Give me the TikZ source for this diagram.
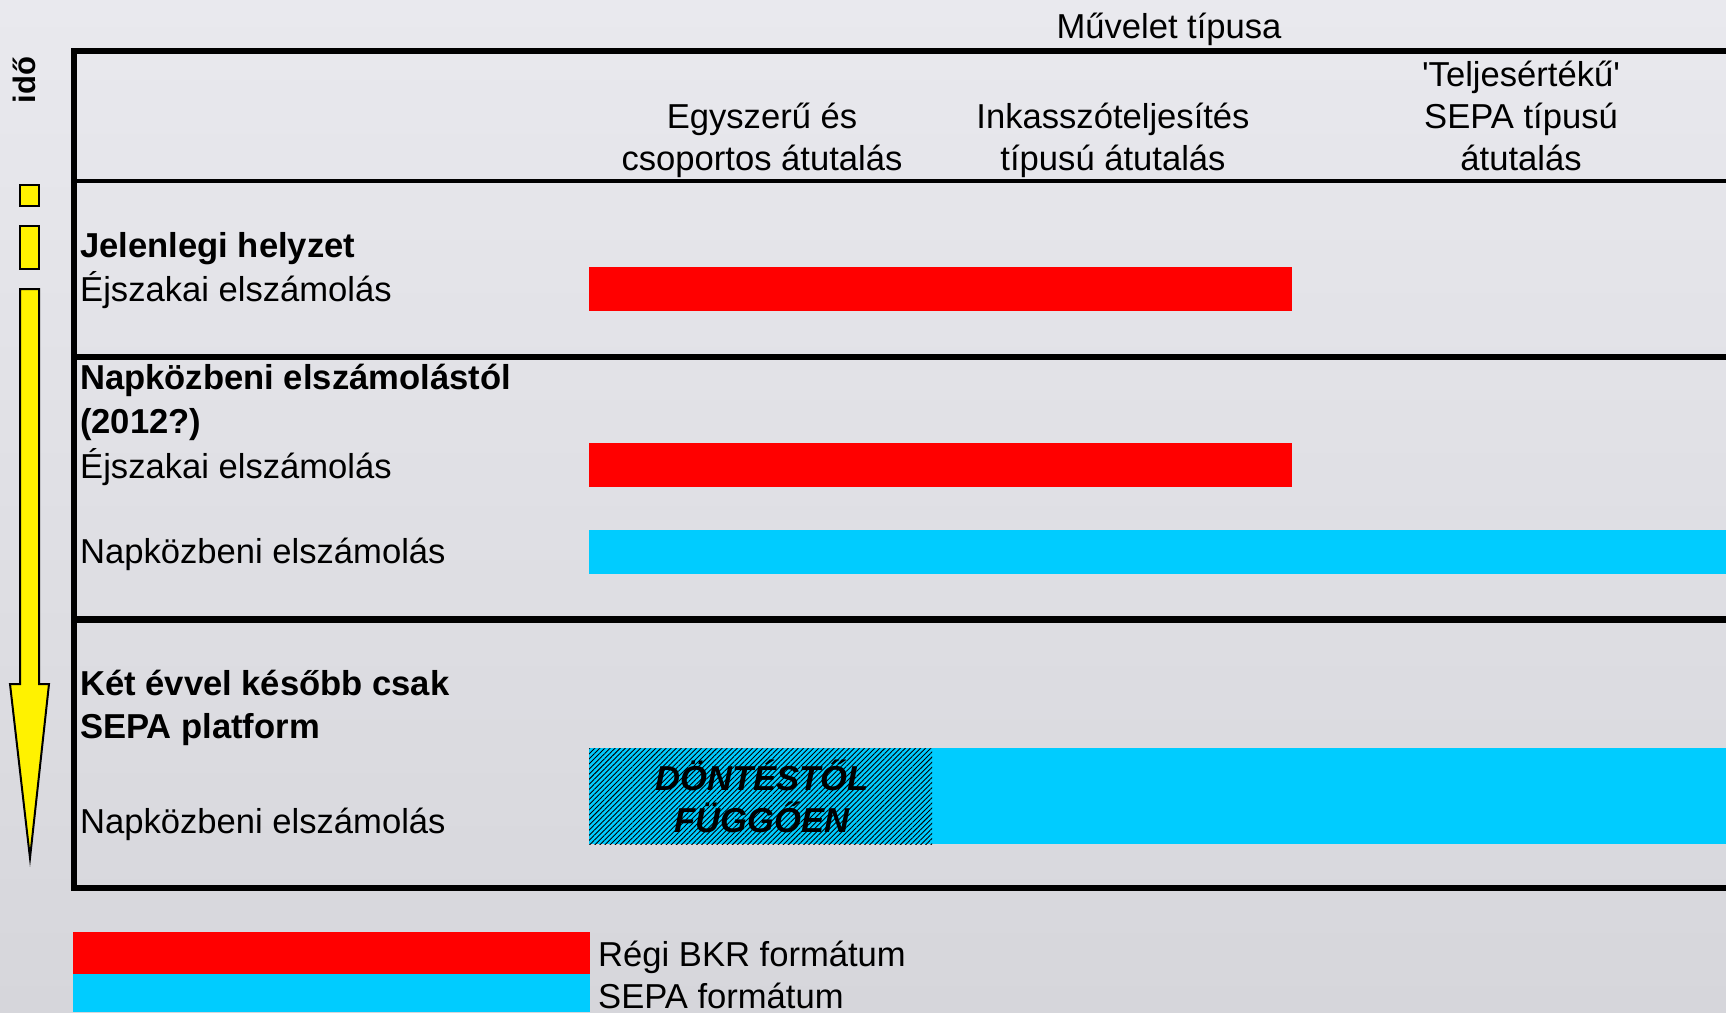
\documentclass[tikz,border=0pt]{standalone}
\usepackage{fontspec}
\setmainfont{Liberation Sans}
\usetikzlibrary{patterns.meta}
\definecolor{bkrred}{RGB}{255,0,0}
\definecolor{sepablue}{RGB}{0,204,255}
\definecolor{bgtop}{RGB}{233,233,238}
\definecolor{bgbottom}{RGB}{214,214,219}
\newcommand{\bodysize}{\fontsize{34.6}{42}\selectfont}
\tikzset{
    rule/.style={line width=6pt}, % table border lines
    timebar/.style={fill=yellow, draw=black, line width=2pt}, % yellow time marks
    txt/.style={inner sep=0pt, font=\bodysize}, % plain text
    rowtitle/.style={inner sep=0pt, anchor=base west, font=\bodysize\bfseries}, % bold row titles
    rowtext/.style={txt, anchor=base west},
    colhead/.style={txt, anchor=base, align=center}
}

\begin{document}
\begin{tikzpicture}[x=1pt, y=-1pt]
    \shade[top color=bgtop, bottom color=bgbottom] (0,0) rectangle (1726,1012);
    \useasboundingbox (0,0) rectangle (1726,1012);

    % bars
    \fill[bkrred] (589,267) rectangle (1292,311);
    \fill[bkrred] (589,443) rectangle (1292,487);
    \fill[sepablue] (589,530) rectangle (1726,574);
    \fill[sepablue] (589,748) rectangle (1726,844);
    \fill[pattern={Lines[angle=45, distance=3.6pt, line width=0.9pt]}] (589,748) rectangle (932,844);

    % table
    \draw[rule] (1730,51) -- (74,51) -- (74,888) -- (1730,888);
    \draw[line width=4pt] (74,181) -- (1726,181);
    \draw[line width=6pt] (74,356.5) -- (1726,356.5);
    \draw[line width=7pt] (74,619.5) -- (1726,619.5);

    % time axis
    \node[font=\fontsize{31}{31}\selectfont\bfseries, rotate=90, inner sep=0pt] (ido) at (24,80) {idő};
    \filldraw[timebar] (20,185) rectangle (39,206);
    \filldraw[timebar] (20,226) rectangle (39,269);
    \filldraw[timebar] (20,289) -- (39,289) -- (39,684) -- (49,684) -- (30,858)
        -- (10,684) -- (20,684) -- cycle;

    % column heads
    \node[txt, anchor=base] (muvelet) at (1169,38) {Művelet típusa};
    \node[colhead] (col1) at (762,170) {Egyszerű és\\csoportos átutalás};
    \node[colhead] (col2) at (1113,170) {Inkasszóteljesítés\\típusú átutalás};
    \node[colhead] (col3) at (1521,170) {\textquotesingle Teljesértékű\textquotesingle\\SEPA típusú\\átutalás};

    % row titles
    \node[rowtitle] (now) at (80,257) {Jelenlegi helyzet};
    \node[rowtitle] (day1) at (80,389) {Napközbeni elszámolástól};
    \node[rowtitle] (day2) at (80,433) {(2012?)};
    \node[rowtitle] (sepa1) at (80,695) {Két évvel később csak};
    \node[rowtitle] (sepa2) at (80,738) {SEPA platform};

    \foreach \y/\labelText [count=\n] in {
        301/{Éjszakai elszámolás},
        478/{Éjszakai elszámolás},
        563/{Napközbeni elszámolás},
        833/{Napközbeni elszámolás}
    } {
        \node[rowtext] (row\n) at (80,\y) {\labelText};
    }

    \node[txt, anchor=base, align=center, font=\bodysize\bfseries\itshape] (decide) at (762,832)
        {DÖNTÉSTŐL\\FÜGGŐEN};

    % legend
    \fill[bkrred] (73,932) rectangle (590,974);
    \fill[sepablue] (73,974) rectangle (590,1012);
    \node[rowtext] (oldfmt) at (598,966) {Régi BKR formátum};
    \node[rowtext] (sepafmt) at (598,1008) {SEPA formátum};
\end{tikzpicture}
\end{document}
